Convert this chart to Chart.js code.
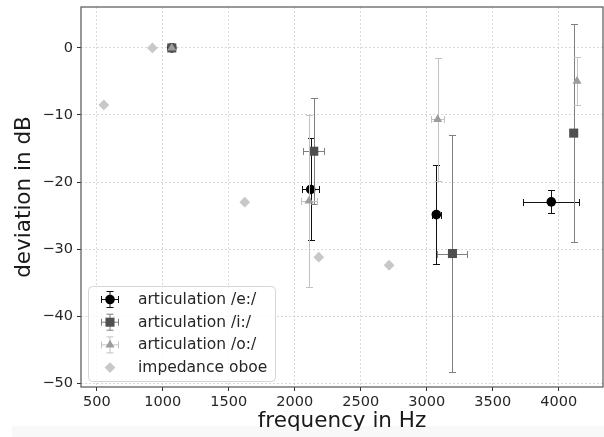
<!DOCTYPE html>
<html>
<head>
<meta charset="utf-8">
<script src="https://cdn.jsdelivr.net/npm/chart.js@4.4.0/dist/chart.umd.min.js"></script>
<style>
  html, body { margin: 0; padding: 0; background: #fff; }
  #wrap { width: 604px; height: 437px; }
</style>
</head>
<body>
<div id="wrap"><canvas id="chartDev" width="604" height="437"></canvas></div>
<script>
// tick labels
const xTicks = [500, 1000, 1500, 2000, 2500, 3000, 3500, 4000];
const yTicks = [0, -10, -20, -30, -40, -50];

const seriesNames = ["articulation /e:/", "articulation /i:/", "articulation /o:/", "impedance oboe"];

// articulation /e:/
const eFreq = [1068, 2121, 3073, 3944];
const eDev = [0, -21.1, -24.85, -22.95];
const eFreqErr = [0, 63, 33, 213];
const eDevErr = [0, 7.6, 7.4, 1.7];

// articulation /i:/
const iFreq = [1068, 2144, 3195, 4114];
const iDev = [0, -15.4, -30.65, -12.7];
const iFreqErr = [0, 78, 114, 0];
const iDevErr = [0, 7.9, 17.6, 16.2];

// articulation /o:/
const oFreq = [1068, 2108, 3083, 4139];
const oDev = [0, -22.8, -10.65, -4.95];
const oFreqErr = [0, 61, 47, 0];
const oDevErr = [0, 12.8, 9.2, 3.6];

// impedance oboe
const oboeFreq = [553, 921, 1621, 2182, 2715];
const oboeDev = [-8.5, 0, -23.0, -31.2, -32.4];

function pts(xs, ys) {
  return xs.map((x, i) => ({ x: x, y: ys[i] }));
}

const FONT = "'DejaVu Sans', sans-serif";

// error bars drawn under each dataset's markers
const errorBars = {
  id: "errorBars",
  beforeDatasetDraw(chart, args) {
    const ds = chart.data.datasets[args.index];
    if (!ds.errX) return;
    const xs = chart.scales.x, ys = chart.scales.y;
    const ctx = chart.ctx;
    const cap = 3.5;
    ctx.save();
    ctx.strokeStyle = ds.errColor;
    ctx.lineWidth = 1;
    ds.data.forEach((p, i) => {
      const px = Math.round(xs.getPixelForValue(p.x)) + 0.5;
      const py = Math.round(ys.getPixelForValue(p.y)) + 0.5;
      const dx = ds.errX[i], dy = ds.errY[i];
      ctx.beginPath();
      if (dy > 0) {
        const t = Math.round(ys.getPixelForValue(p.y + dy)) + 0.5;
        const b = Math.round(ys.getPixelForValue(p.y - dy)) + 0.5;
        ctx.moveTo(px, t); ctx.lineTo(px, b);
        ctx.moveTo(px - cap, t); ctx.lineTo(px + cap, t);
        ctx.moveTo(px - cap, b); ctx.lineTo(px + cap, b);
      }
      if (dx > 0) {
        const l = Math.round(xs.getPixelForValue(p.x - dx)) + 0.5;
        const r = Math.round(xs.getPixelForValue(p.x + dx)) + 0.5;
        ctx.moveTo(l, py); ctx.lineTo(r, py);
        ctx.moveTo(l, py - cap); ctx.lineTo(l, py + cap);
        ctx.moveTo(r, py - cap); ctx.lineTo(r, py + cap);
      }
      ctx.stroke();
    });
    ctx.restore();
  }
};

function marker(ctx, style, x, y, r) {
  ctx.beginPath();
  if (style === "circle") {
    ctx.arc(x, y, r, 0, Math.PI * 2);
  } else if (style === "rect") {
    const s = r * Math.SQRT1_2;
    ctx.rect(x - s, y - s, 2 * s, 2 * s);
  } else if (style === "triangle") {
    const a = Math.PI * 2 / 3;
    ctx.moveTo(x, y - r);
    ctx.lineTo(x + Math.sin(a) * r, y - Math.cos(a) * r);
    ctx.lineTo(x + Math.sin(2 * a) * r, y - Math.cos(2 * a) * r);
    ctx.closePath();
  } else {
    ctx.moveTo(x, y - r); ctx.lineTo(x + r, y); ctx.lineTo(x, y + r); ctx.lineTo(x - r, y);
    ctx.closePath();
  }
  ctx.fill();
}

// background, frame and legend box like matplotlib
const frameAndLegend = {
  id: "frameAndLegend",
  beforeDraw(chart) {
    const ctx = chart.ctx;
    ctx.save();
    ctx.fillStyle = "#ffffff";
    ctx.fillRect(0, 0, chart.width, chart.height);
    ctx.fillStyle = "#f8f8f8";
    ctx.fillRect(12, 426, chart.width - 12, chart.height - 426);
    ctx.restore();
  },
  afterDraw(chart) {
    const ctx = chart.ctx;
    const a = chart.chartArea;
    ctx.save();
    ctx.strokeStyle = "#555";
    ctx.lineWidth = 1.2;
    ctx.strokeRect(a.left, a.top, a.right - a.left, a.bottom - a.top);

    // legend
    const bx = 88.5, by = 286.5, bw = 187, bh = 95;
    ctx.beginPath();
    ctx.roundRect(bx, by, bw, bh, 4);
    ctx.fillStyle = "rgba(255,255,255,0.8)";
    ctx.fill();
    ctx.strokeStyle = "#d6d6d6";
    ctx.lineWidth = 1;
    ctx.stroke();

    ctx.font = "15.5px " + FONT;
    ctx.textBaseline = "middle";
    ctx.textAlign = "left";
    chart.data.datasets.forEach((ds, i) => {
      const cy = 299.5 + i * 22.7;
      const mx = 110;
      if (ds.errX) {
        ctx.strokeStyle = ds.errColor;
        ctx.lineWidth = 1;
        ctx.beginPath();
        ctx.moveTo(mx - 8.5, cy); ctx.lineTo(mx + 8.5, cy);
        ctx.moveTo(mx - 8.5, cy - 3.5); ctx.lineTo(mx - 8.5, cy + 3.5);
        ctx.moveTo(mx + 8.5, cy - 3.5); ctx.lineTo(mx + 8.5, cy + 3.5);
        ctx.moveTo(mx, cy - 8); ctx.lineTo(mx, cy + 8);
        ctx.moveTo(mx - 3.5, cy - 8); ctx.lineTo(mx + 3.5, cy - 8);
        ctx.moveTo(mx - 3.5, cy + 8); ctx.lineTo(mx + 3.5, cy + 8);
        ctx.stroke();
      }
      ctx.fillStyle = ds.pointBackgroundColor;
      marker(ctx, ds.pointStyle, mx, cy, ds.pointRadius);
      ctx.fillStyle = "#262626";
      ctx.fillText(ds.label, 138, cy + 0.5);
    });
    ctx.restore();
  }
};

const ctx = document.getElementById("chartDev").getContext("2d");

const myChart = new Chart(ctx, {
  type: "scatter",
  data: {
    datasets: [
      {
        label: seriesNames[0],
        data: pts(eFreq, eDev),
        errX: eFreqErr, errY: eDevErr, errColor: "#111111",
        pointStyle: "circle", pointRadius: 4.8,
        pointBackgroundColor: "#000000", pointBorderWidth: 0,
        order: 3,
      },
      {
        label: seriesNames[1],
        data: pts(iFreq, iDev),
        errX: iFreqErr, errY: iDevErr, errColor: "#7f7f7f",
        pointStyle: "rect", pointRadius: 6.4,
        pointBackgroundColor: "#4f4f4f", pointBorderWidth: 0,
        order: 2,
      },
      {
        label: seriesNames[2],
        data: pts(oFreq, oDev),
        errX: oFreqErr, errY: oDevErr, errColor: "#c2c2c2",
        pointStyle: "triangle", pointRadius: 5.2,
        pointBackgroundColor: "#9c9c9c", pointBorderWidth: 0,
        order: 1,
      },
      {
        label: seriesNames[3],
        data: pts(oboeFreq, oboeDev),
        pointStyle: "rectRot", pointRadius: 5.4,
        pointBackgroundColor: "#c8c8c8", pointBorderWidth: 0,
        order: 0,
      },
    ],
  },
  options: {
    responsive: false,
    animation: false,
    events: [],
    layout: { autoPadding: false, padding: { top: 7, right: 1, left: 0, bottom: 0 } },
    plugins: {
      legend: { display: false },
      tooltip: { enabled: false },
    },
    scales: {
      x: {
        type: "linear",
        min: 380,
        max: 4336,
        afterFit(scale) {
          scale.height = 50;
          scale.paddingLeft = 0;
          scale.paddingRight = 0;
        },
        afterBuildTicks(scale) { scale.ticks = xTicks.map(v => ({ value: v })); },
        ticks: {
          font: { family: FONT, size: 14.5 },
          color: "#262626",
          padding: 3,
          maxRotation: 0,
          autoSkip: false,
          callback: v => String(v),
        },
        grid: {
          color: "#cfcfcf",
          lineWidth: 0.8,
          tickLength: 4,
          tickColor: "#333",
          tickWidth: 1,
          tickBorderDash: [],
        },
        border: { display: false, dash: [2, 2] },
        title: {
          display: true,
          text: "frequency in Hz",
          font: { family: FONT, size: 21.5 },
          color: "#1a1a1a",
          padding: { top: 0, bottom: 3 },
        },
      },
      y: {
        type: "linear",
        min: -50.55,
        max: 6.1,
        afterFit(scale) {
          scale.width = 81;
          scale.paddingTop = 0;
          scale.paddingBottom = 0;
        },
        afterBuildTicks(scale) { scale.ticks = yTicks.map(v => ({ value: v })); },
        ticks: {
          font: { family: FONT, size: 14.5 },
          color: "#262626",
          padding: 4,
          callback: v => (v < 0 ? "\u2212" + Math.abs(v) : String(v)),
        },
        grid: {
          color: "#cfcfcf",
          lineWidth: 0.8,
          tickLength: 4,
          tickColor: "#333",
          tickWidth: 1,
          tickBorderDash: [],
        },
        border: { display: false, dash: [2, 2] },
        title: {
          display: true,
          text: "deviation in dB",
          font: { family: FONT, size: 21.5 },
          color: "#1a1a1a",
          padding: { top: 12, bottom: 0 },
        },
      },
    },
  },
  plugins: [errorBars, frameAndLegend],
});
</script>
</body>
</html>
